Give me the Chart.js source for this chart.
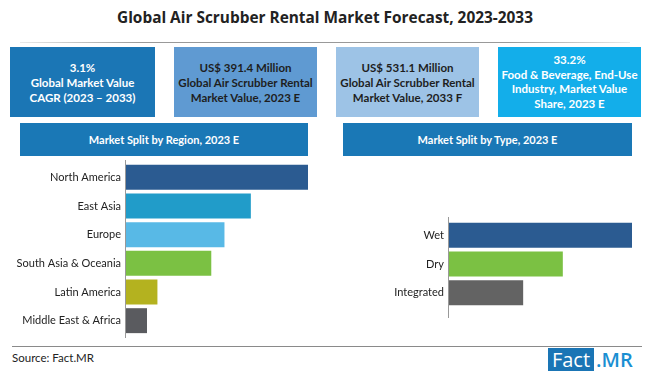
<!DOCTYPE html>
<html><head><meta charset="utf-8">
<script src="https://cdn.jsdelivr.net/npm/chart.js@4"></script>
<style>
html,body{margin:0;padding:0;background:#fff;}
#wrap{position:relative;width:650px;height:377px;overflow:hidden;font-family:Lato,"Open Sans",sans-serif;}
.abs{position:absolute;}
#title{left:0;top:7px;width:650px;text-align:center;font:700 15.4px "Open Sans",sans-serif;color:#222;}
#tline{left:20px;top:42px;width:610px;height:1px;background:linear-gradient(to right,rgba(150,150,150,0.2),#999 20%,#999 80%,rgba(150,150,150,0.2));}
.box{top:47px;height:70px;display:flex;align-items:center;justify-content:center;text-align:center;font:700 11.5px Lato,sans-serif;line-height:15px;}
.hdr{height:33px;top:123px;background:#1a78b6;color:#fff;display:flex;align-items:center;justify-content:center;font:700 11px Lato,sans-serif;}
#fline{left:12px;top:346px;width:630px;height:1px;background:#8a8a8a;}
#src{left:12px;top:351px;font:11.5px Lato,sans-serif;color:#222;}
#logo1{left:548px;top:348px;width:46px;height:23px;background:#1a75b5;color:#fff;font:20px "Open Sans",sans-serif;line-height:23px;text-align:center;}
#logo2{left:596px;top:348px;height:23px;color:#1a8fd2;font:600 20px "Open Sans",sans-serif;line-height:23px;}
canvas{position:absolute;}
</style></head>
<body><div id="wrap">
<div id="title" class="abs">Global Air Scrubber Rental Market Forecast, 2023-2033</div>
<div id="tline" class="abs"></div>
<div class="abs box" style="left:10px;width:145px;background:#1b76b5;color:#fff;">3.1%<br>Global Market Value<br>CAGR (2023 – 2033)</div>
<div class="abs box" style="left:174px;width:143px;background:#5f9ad2;color:#1e1e1e;">US$ 391.4 Million<br>Global Air Scrubber Rental<br>Market Value, 2023 E</div>
<div class="abs box" style="left:336px;width:143px;background:#9dc3e6;color:#1e1e1e;">US$ 531.1 Million<br>Global Air Scrubber Rental<br>Market Value, 2033 F</div>
<div class="abs box" style="left:498px;width:143px;background:#13aeea;color:#fff;line-height:14.5px;">33.2%<br>Food &amp; Beverage, End-Use<br>Industry, Market Value<br>Share, 2023 E</div>
<div class="abs hdr" style="left:20px;width:288px;">Market Split by Region, 2023 E</div>
<div class="abs hdr" style="left:343px;width:289px;">Market Split by Type, 2023 E</div>
<canvas id="c1" width="308" height="178" style="left:0;top:160px;"></canvas>
<canvas id="c2" width="302" height="101" style="left:330px;top:217px;"></canvas>
<div id="fline" class="abs"></div>
<div id="src" class="abs">Source: Fact.MR</div>
<div id="logo1" class="abs">Fact</div>
<div id="logo2" class="abs">.MR</div>
</div>
<script>
const regionLabels = ["North America","East Asia","Europe","South Asia & Oceania","Latin America","Middle East & Africa"];
const regionShares = [33.3, 22.9, 18.1, 15.7, 5.9, 4.0];
const regionColors = ["#2b5b91","#219cc9","#58b9e6","#7bc143","#b4b21f","#5a5b5f"];
const typeLabels = ["Wet","Dry","Integrated"];
const typeShares = [49.2, 30.7, 20.1];
const typeColors = ["#2b5b91","#7bc143","#636363"];

// draws the y-axis line across the whole canvas height (like the reference)
const fullAxis = {
  id:'fullAxis',
  afterDraw(chart){
    const ctx = chart.ctx, x = Math.round(chart.chartArea.left) + 0.5;
    ctx.save(); ctx.strokeStyle = '#999'; ctx.lineWidth = 1;
    ctx.beginPath(); ctx.moveTo(x, 0); ctx.lineTo(x, chart.height); ctx.stroke(); ctx.restore();
  }
};

function makeChart(id, labels, values, colors, axisW, padTop, padBottom){
  return new Chart(document.getElementById(id), {
    type:'bar',
    data:{labels:labels, datasets:[{data:values, backgroundColor:colors, barPercentage:0.87, categoryPercentage:1}]},
    plugins:[fullAxis],
    options:{
      indexAxis:'y', responsive:false, animation:false,
      layout:{padding:{top:padTop,bottom:padBottom,left:0,right:0}},
      plugins:{legend:{display:false}, tooltip:{enabled:false}},
      scales:{
        x:{display:false, min:0, max:Math.max(...values)},
        y:{grid:{display:false, drawTicks:false}, border:{display:false},
           ticks:{color:'#222', font:{family:'Lato', size:11}, padding:4},
           afterFit(s){ s.width = axisW; s.paddingTop = 0; s.paddingBottom = 0; }}
      }
    }
  });
}
makeChart('c1', regionLabels, regionShares, regionColors, 125, 3, 3);
makeChart('c2', typeLabels, typeShares, typeColors, 118, 4, 11);
</script>
</body></html>
